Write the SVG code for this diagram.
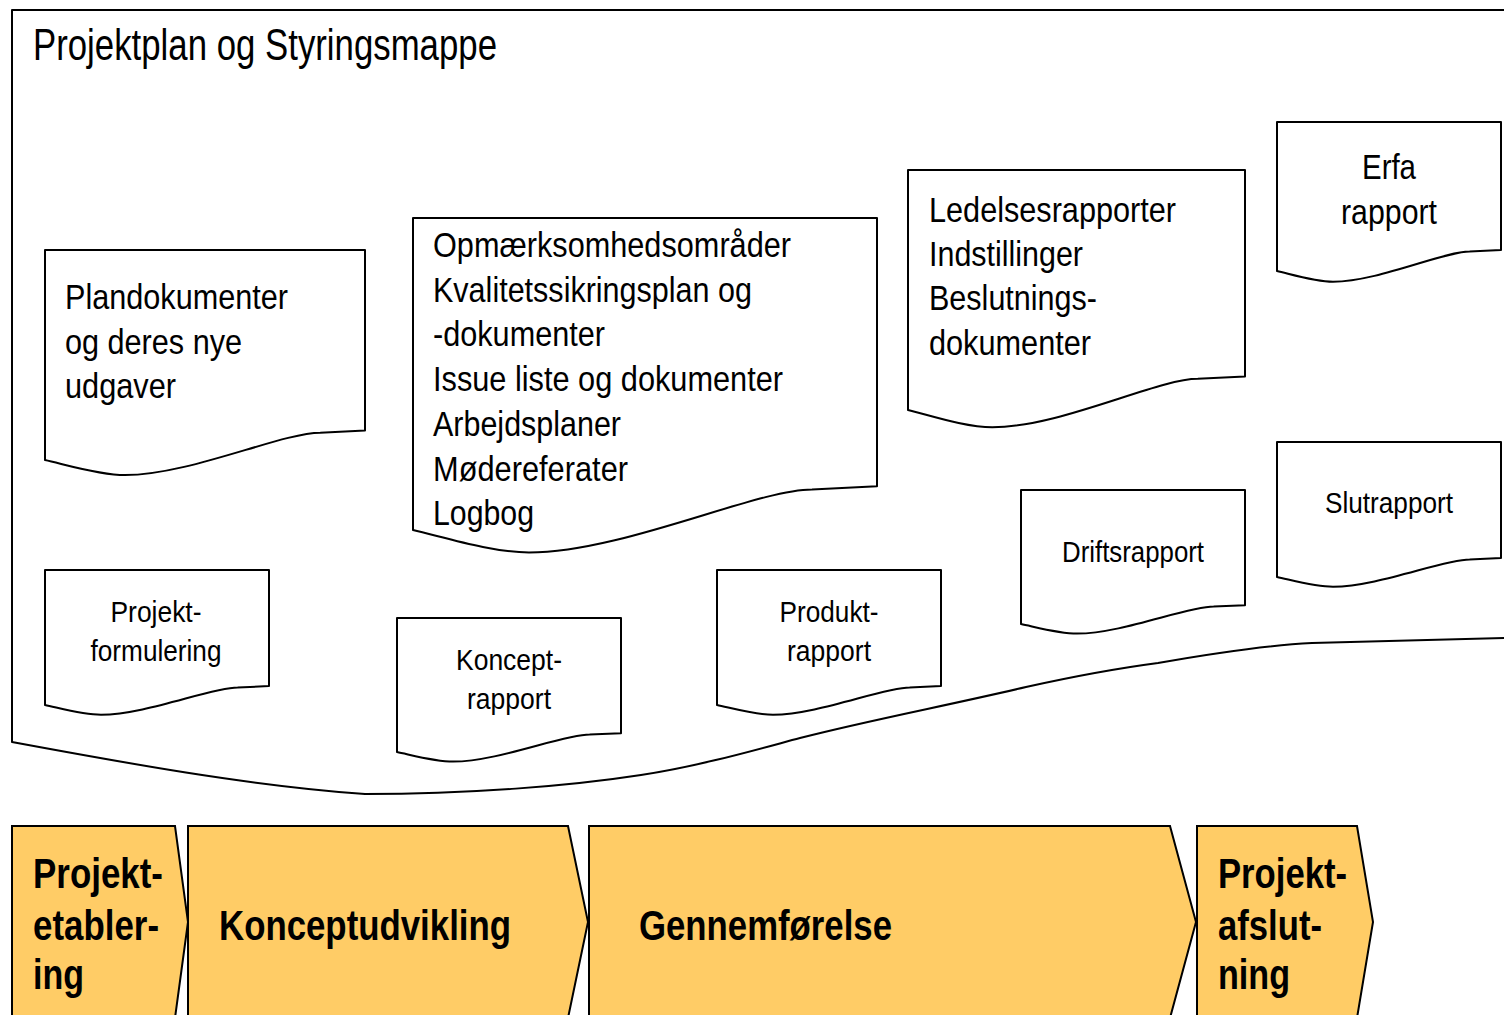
<svg xmlns="http://www.w3.org/2000/svg" width="1504" height="1015" viewBox="0 0 1504 1015">
<style>
.outline{fill:#ffffff;stroke:#000000;stroke-width:2;stroke-linejoin:round}
.phase{fill:#FFCC66;stroke:#000000;stroke-width:2;stroke-linejoin:miter}
text{font-family:"Liberation Sans Narrow","Liberation Sans",Arial,sans-serif;fill:#000000}
.title{font-size:44px}
.big{font-size:35px}
.small{font-size:30px}
.ph{font-size:42px;font-weight:bold}
.c{text-anchor:middle}
</style>
<rect x="0" y="0" width="1504" height="1015" fill="#ffffff"/>
<g id="container">
<path class="outline" d="M1508,10 H12 V742 C120,762 250,786 365,794 C470,794 570,786 641,775 C700,766 755,750 800,738 C870,720 950,705 1026,687 C1080,675 1120,668 1158,663 C1220,652 1270,645 1312,643 L1508,638"/>
<text class="title" x="33" y="60" textLength="464" lengthAdjust="spacingAndGlyphs">Projektplan og Styringsmappe</text>
</g>
<g id="connectors"></g>
<g id="doc-plandokumenter">
<path class="outline" d="M45,250 H365 V430.6 L320.2,432.7 C281.8,432.7 189,475.1 125,475.1 C99.4,475.1 64.2,464.2 45,460 Z"/>
<text class="big" x="65" y="309" textLength="223" lengthAdjust="spacingAndGlyphs">Plandokumenter</text>
<text class="big" x="65" y="354" textLength="177" lengthAdjust="spacingAndGlyphs">og deres nye</text>
<text class="big" x="65" y="398" textLength="111" lengthAdjust="spacingAndGlyphs">udgaver</text>
</g>
<g id="doc-opmaerksomhed">
<path class="outline" d="M413,218 H877 V486.3 L812,489.4 C756.4,489.4 621.8,552.5 529,552.5 C491.9,552.5 440.8,536.2 413,530 Z"/>
<text class="big" x="433" y="257" textLength="358" lengthAdjust="spacingAndGlyphs">Opmærksomhedsområder</text>
<text class="big" x="433" y="301.7" textLength="319" lengthAdjust="spacingAndGlyphs">Kvalitetssikringsplan og</text>
<text class="big" x="433" y="346.4" textLength="172" lengthAdjust="spacingAndGlyphs">-dokumenter</text>
<text class="big" x="433" y="391.1" textLength="350" lengthAdjust="spacingAndGlyphs">Issue liste og dokumenter</text>
<text class="big" x="433" y="435.8" textLength="188" lengthAdjust="spacingAndGlyphs">Arbejdsplaner</text>
<text class="big" x="433" y="480.5" textLength="195" lengthAdjust="spacingAndGlyphs">Mødereferater</text>
<text class="big" x="433" y="525.2" textLength="101" lengthAdjust="spacingAndGlyphs">Logbog</text>
</g>
<g id="doc-ledelsesrapporter">
<path class="outline" d="M908,170 H1245 V376.4 L1197.8,378.8 C1157.4,378.8 1059.7,427.3 992.3,427.3 C965.3,427.3 928.2,414.8 908,410 Z"/>
<text class="big" x="929" y="222" textLength="247" lengthAdjust="spacingAndGlyphs">Ledelsesrapporter</text>
<text class="big" x="929" y="266" textLength="154" lengthAdjust="spacingAndGlyphs">Indstillinger</text>
<text class="big" x="929" y="310" textLength="168" lengthAdjust="spacingAndGlyphs">Beslutnings-</text>
<text class="big" x="929" y="355" textLength="162" lengthAdjust="spacingAndGlyphs">dokumenter</text>
</g>
<g id="doc-erfarapport">
<path class="outline" d="M1277,122 H1501 V250.1 L1469.6,251.6 C1442.8,251.6 1377.8,281.7 1333,281.7 C1315.1,281.7 1290.4,274 1277,271 Z"/>
<text class="big c" x="1389" y="179" textLength="54" lengthAdjust="spacingAndGlyphs">Erfa</text>
<text class="big c" x="1389" y="224" textLength="96" lengthAdjust="spacingAndGlyphs">rapport</text>
</g>
<g id="doc-slutrapport">
<path class="outline" d="M1277,442 H1501 V558.1 L1469.6,559.5 C1442.8,559.5 1377.8,586.7 1333,586.7 C1315.1,586.7 1290.4,579.7 1277,577 Z"/>
<text class="small c" x="1389" y="513" textLength="128" lengthAdjust="spacingAndGlyphs">Slutrapport</text>
</g>
<g id="doc-driftsrapport">
<path class="outline" d="M1021,490 H1245 V605.2 L1213.6,606.6 C1186.8,606.6 1121.8,633.6 1077,633.6 C1059.1,633.6 1034.4,626.7 1021,624 Z"/>
<text class="small c" x="1133" y="562" textLength="142" lengthAdjust="spacingAndGlyphs">Driftsrapport</text>
</g>
<g id="doc-produktrapport">
<path class="outline" d="M717,570 H941 V686.1 L909.6,687.5 C882.8,687.5 817.8,714.7 773,714.7 C755.1,714.7 730.4,707.7 717,705 Z"/>
<text class="small c" x="829" y="622" textLength="99" lengthAdjust="spacingAndGlyphs">Produkt-</text>
<text class="small c" x="829" y="661" textLength="84" lengthAdjust="spacingAndGlyphs">rapport</text>
</g>
<g id="doc-konceptrapport">
<path class="outline" d="M397,618 H621 V733.2 L589.6,734.6 C562.8,734.6 497.8,761.6 453,761.6 C435.1,761.6 410.4,754.7 397,752 Z"/>
<text class="small c" x="509" y="670" textLength="106" lengthAdjust="spacingAndGlyphs">Koncept-</text>
<text class="small c" x="509" y="709" textLength="84" lengthAdjust="spacingAndGlyphs">rapport</text>
</g>
<g id="doc-projektformulering">
<path class="outline" d="M45,570 H269 V686.1 L237.6,687.5 C210.8,687.5 145.8,714.7 101,714.7 C83.1,714.7 58.4,707.7 45,705 Z"/>
<text class="small c" x="156" y="622" textLength="91" lengthAdjust="spacingAndGlyphs">Projekt-</text>
<text class="small c" x="156" y="661" textLength="131" lengthAdjust="spacingAndGlyphs">formulering</text>
</g>
<g id="phase-projektetablering">
<path class="phase" d="M12,826 H175 L188,922 L175,1018 H12 Z"/>
<text class="ph" x="33" y="888" textLength="130" lengthAdjust="spacingAndGlyphs">Projekt-</text>
<text class="ph" x="33" y="940" textLength="126" lengthAdjust="spacingAndGlyphs">etabler-</text>
<text class="ph" x="33" y="989" textLength="51" lengthAdjust="spacingAndGlyphs">ing</text>
</g>
<g id="phase-konceptudvikling">
<path class="phase" d="M188,826 H568 L588,922 L568,1018 H188 Z"/>
<text class="ph" x="219" y="940" textLength="292" lengthAdjust="spacingAndGlyphs">Konceptudvikling</text>
</g>
<g id="phase-gennemfoerelse">
<path class="phase" d="M589,826 H1170 L1196,922 L1170,1018 H589 Z"/>
<text class="ph" x="639" y="940" textLength="253" lengthAdjust="spacingAndGlyphs">Gennemførelse</text>
</g>
<g id="phase-projektafslutning">
<path class="phase" d="M1197,826 H1357 L1373,922 L1357,1018 H1197 Z"/>
<text class="ph" x="1218" y="888" textLength="129" lengthAdjust="spacingAndGlyphs">Projekt-</text>
<text class="ph" x="1218" y="940" textLength="104" lengthAdjust="spacingAndGlyphs">afslut-</text>
<text class="ph" x="1218" y="989" textLength="72" lengthAdjust="spacingAndGlyphs">ning</text>
</g>
</svg>
